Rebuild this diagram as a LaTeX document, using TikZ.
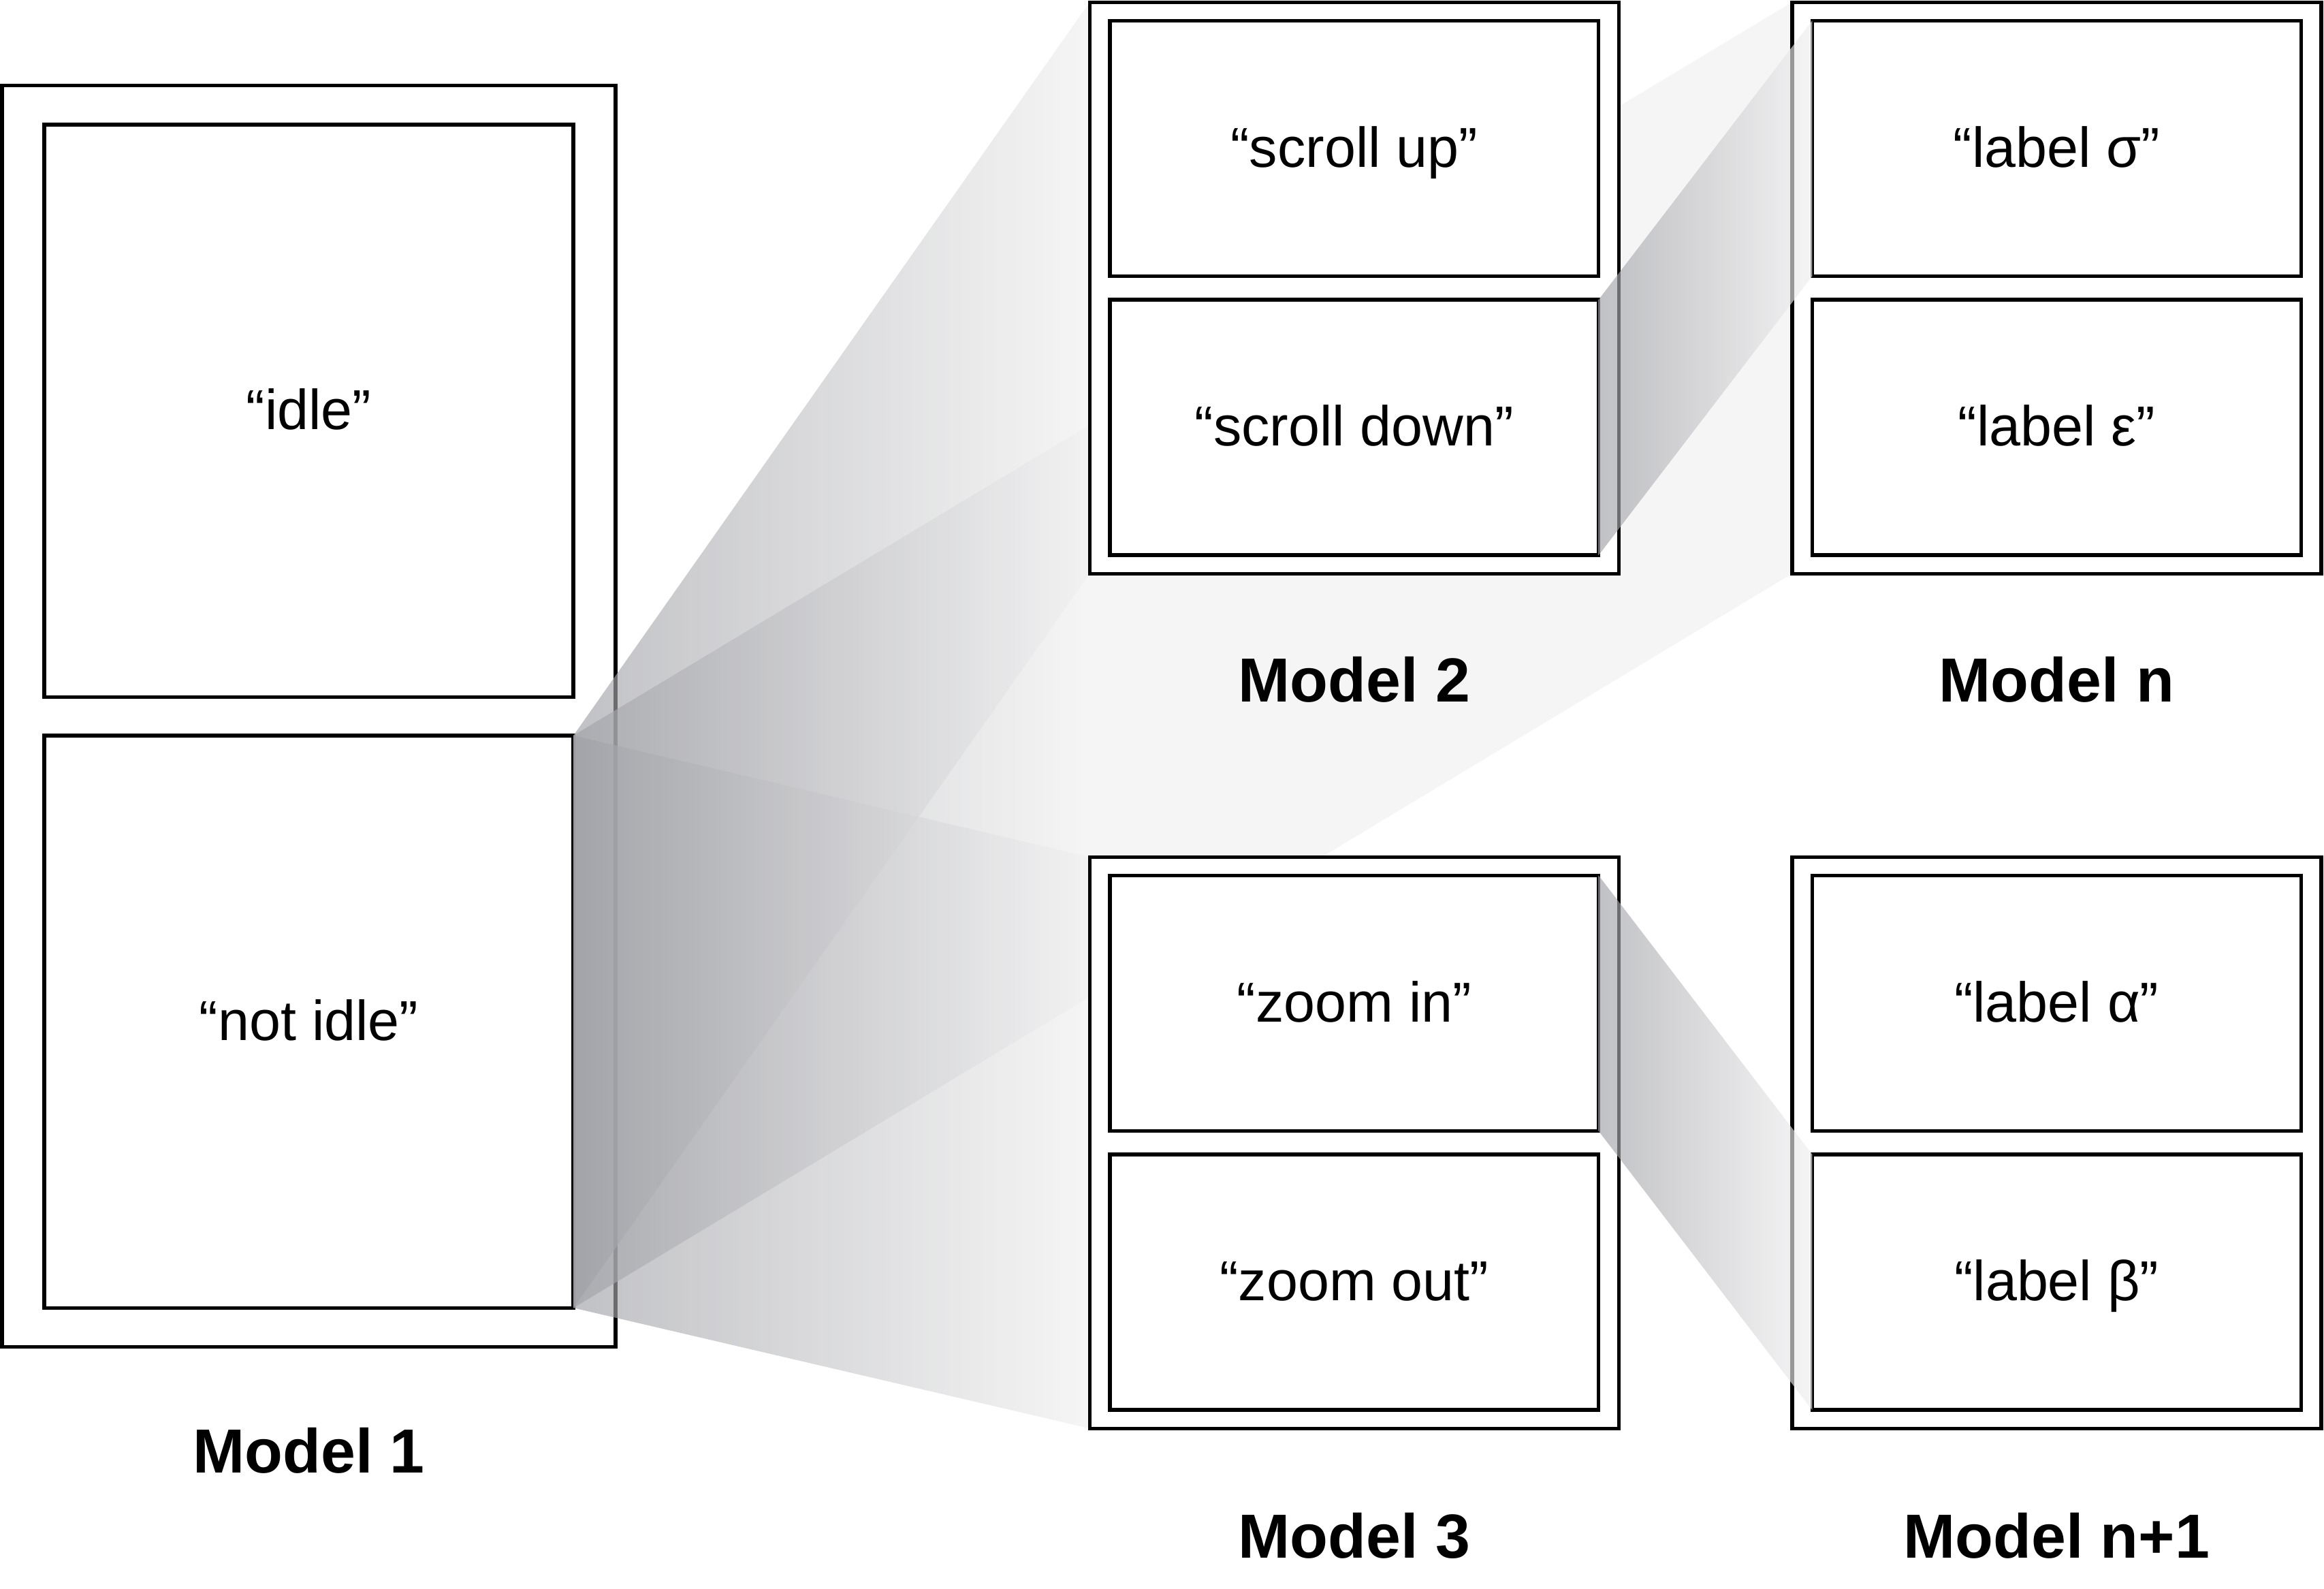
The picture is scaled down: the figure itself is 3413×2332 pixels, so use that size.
\documentclass[tikz,border=0pt]{standalone}
\usepackage{fontspec}
\setmainfont{Liberation Sans}
\pgfdeclarelayer{back}
\pgfdeclarelayer{mid}
\pgfdeclarelayer{front}
\pgfsetlayers{back,mid,main,front}
\definecolor{bandL}{RGB}{160,161,166}
\definecolor{bandR}{RGB}{240,240,241}
\pgfdeclarehorizontalshading{bandthree}{100bp}{color(0bp)=(bandL); color(25bp)=(bandL); color(46.2bp)=(bandR); color(100bp)=(bandR)}
\newcommand{\boxtxt}{\fontsize{23.5pt}{28pt}\selectfont}
\newcommand{\lbltxt}{\bfseries\fontsize{26pt}{30pt}\selectfont}
\tikzset{
  boxframe/.style={draw=black, fill=white, line width=0.055cm, inner sep=0pt, outer sep=0pt},
  bigouter/.style={boxframe, minimum width=9cm, minimum height=18.51cm},
  bigslot/.style={boxframe, minimum width=7.77cm, minimum height=8.4cm, font=\boxtxt, text height=0.54cm, text depth=0cm},
  smallouter/.style={boxframe, minimum width=7.765cm, minimum height=8.385cm},
  smallslot/.style={boxframe, minimum width=7.175cm, minimum height=3.75cm, font=\boxtxt, text height=0.54cm, text depth=0cm},
  modellabel/.style={font=\lbltxt, inner sep=0pt},
  bandfill/.style={left color=bandL, right color=bandR, fill opacity=0.65, draw=none},
  longband/.style={shade, shading=bandthree, fill opacity=0.65, draw=none}
}
\begin{document}
\begin{tikzpicture}[x=0.01cm, y=-0.01cm]
\useasboundingbox (0,0) rectangle (3413,2332);
% Model 1
\begin{pgfonlayer}{back}
\node[bigouter] (m1) at (453.5,1051.5) {};
\node[bigslot] (idle) at (453.5,603) {“idle”};
\node[bigslot] (notidle) at (453.5,1500) {“not idle”};
\end{pgfonlayer}
% Model 2
\node[smallouter] (m2) at (1988.75,422.75) {};
\node[smallslot] (sup) at (1988.75,218) {“scroll up”};
\node[smallslot] (sdown) at (1988.75,627.5) {“scroll down”};
% Model 3
\node[smallouter] (m3) at (1988.75,1677.75) {};
\node[smallslot] (zin) at (1988.75,1473) {“zoom in”};
\node[smallslot] (zout) at (1988.75,1882.5) {“zoom out”};
% Model n
\node[smallouter] (mn) at (3020.25,422.75) {};
\node[smallslot] (sigma) at (3020.25,218) {“label σ”};
\node[smallslot] (eps) at (3020.25,627.5) {“label ε”};
% Model n+1
\node[smallouter] (mn1) at (3020.25,1677.75) {};
\node[smallslot] (alpha) at (3020.25,1473) {“label α”};
\node[smallslot] (beta) at (3020.25,1882.5) {“label β”};
% labels
\node[modellabel] (l1) at (453.5,2130) {Model 1};
\node[modellabel] (l2) at (1988.75,997.5) {Model 2};
\node[modellabel] (ln) at (3020.25,997.5) {Model n};
\node[modellabel] (l3) at (1988.75,2254.5) {Model 3};
\node[modellabel] (ln1) at (3020.25,2254.5) {Model n+1};
% bands from "not idle"
\begin{pgfonlayer}{mid}
\path[bandfill] (notidle.north east) -- (m2.north west) -- (m2.south west) -- (notidle.south east) -- cycle;
\path[bandfill] (notidle.north east) -- (m3.north west) -- (m3.south west) -- (notidle.south east) -- cycle;
\path[longband] (notidle.north east) -- (mn.north west) -- (mn.south west) -- (notidle.south east) -- cycle;
\end{pgfonlayer}
% bands on top
\begin{pgfonlayer}{front}
\path[bandfill] (sdown.north east) -- (sigma.north west) -- (sigma.south west) -- (sdown.south east) -- cycle;
\path[bandfill] (zin.north east) -- (beta.north west) -- (beta.south west) -- (zin.south east) -- cycle;
\end{pgfonlayer}
\end{tikzpicture}
\end{document}
